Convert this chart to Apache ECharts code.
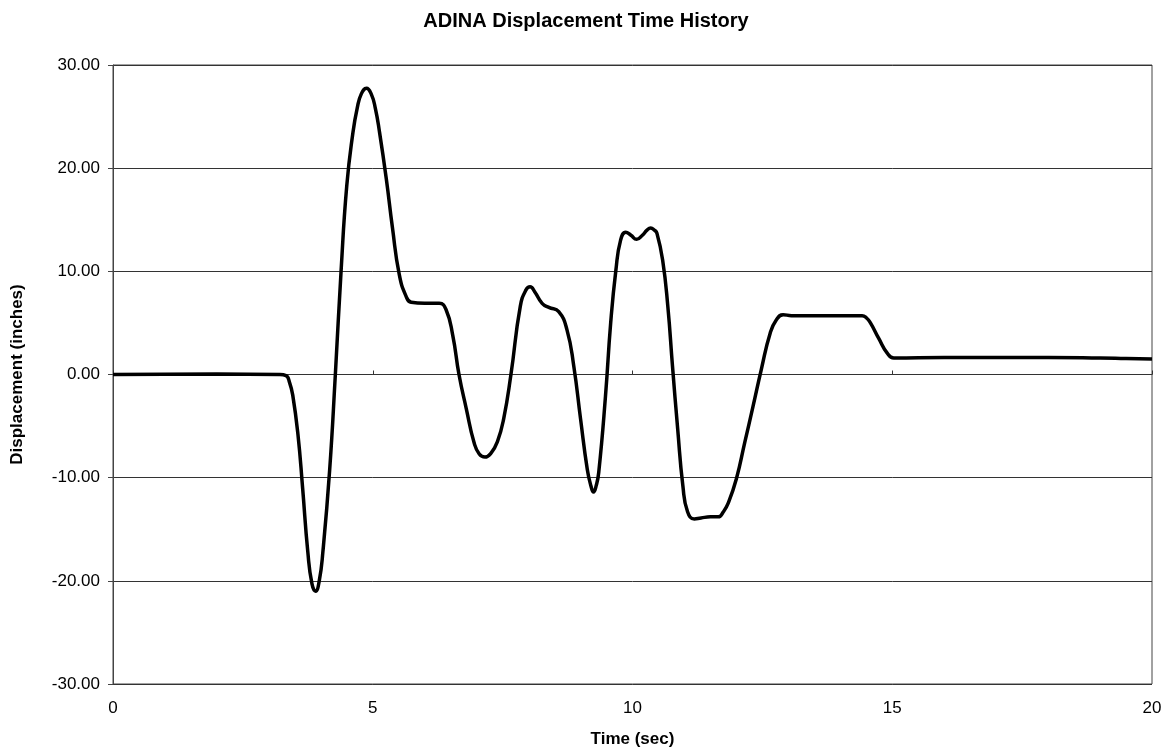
<!DOCTYPE html>
<html><head><meta charset="utf-8">
<script src="https://cdn.jsdelivr.net/npm/echarts@6/dist/echarts.min.js"></script>
<style>html,body{margin:0;padding:0;background:#fff}#c{width:1172px;height:753px}</style>
</head><body><div id="c"></div>
<script>
const time = [0, 2, 3.2, 3.33, 3.4, 3.46, 3.56, 3.65, 3.75, 3.83, 3.90, 3.97, 4.04, 4.17, 4.28, 4.39, 4.50, 4.62, 4.70, 4.78, 4.88, 4.97, 5.05, 5.13, 5.26, 5.38, 5.51, 5.64, 5.74, 6.0, 6.28, 6.41, 6.54, 6.66, 6.8, 6.95, 7.05, 7.16, 7.28, 7.4, 7.52, 7.66, 7.84, 7.95, 8.03, 8.12, 8.26, 8.39, 8.58, 8.74, 8.87, 9.0, 9.13, 9.2, 9.25, 9.3, 9.35, 9.48, 9.58, 9.68, 9.77, 9.87, 9.97, 10.08, 10.19, 10.28, 10.35, 10.42, 10.47, 10.58, 10.68, 10.77, 10.87, 10.97, 11.06, 11.19, 11.32, 11.5, 11.65, 11.75, 11.84, 12.0, 12.16, 12.32, 12.48, 12.65, 12.77, 12.9, 13.06, 13.5, 14.0, 14.42, 14.5, 14.58, 14.74, 14.9, 15.03, 16, 17, 18, 19, 19.5, 20];
const displacement = [0, 0.05, 0, -0.1, -0.8, -2.0, -5.8, -11.0, -17.2, -20.3, -21.0, -20.0, -17.2, -9.3, 0, 10, 18.3, 23.5, 25.8, 27.2, 27.75, 27.2, 25.8, 23.5, 19.0, 14.2, 9.7, 7.6, 7.0, 6.9, 6.9, 6.3, 3.8, 0, -3.3, -6.6, -7.7, -8.0, -7.6, -6.5, -4.3, 0, 6.6, 8.2, 8.5, 8.0, 6.9, 6.5, 6.1, 4.3, 0.8, -4.3, -9.2, -10.8, -11.4, -10.8, -9.5, -2.1, 5.0, 10.1, 13.0, 13.8, 13.5, 13.1, 13.5, 14.0, 14.2, 14.0, 13.7, 11.1, 6.6, 0.8, -5.3, -10.8, -13.3, -14.0, -13.9, -13.8, -13.8, -13.3, -12.5, -10.1, -6.6, -3.1, 0.5, 4.0, 5.3, 5.8, 5.7, 5.7, 5.7, 5.7, 5.5, 5.0, 3.5, 2.1, 1.6, 1.65, 1.65, 1.65, 1.6, 1.55, 1.5];
const xTicks = [0, 5, 10, 15, 20];
const yTicks = [-30, -20, -10, 0, 10, 20, 30];

const pts = time.map((t, i) => [t, displacement[i]]);
const font = 'Liberation Sans, Arial, sans-serif';
const chart = echarts.init(document.getElementById('c'));
chart.setOption({
  animation: false,
  title: { text: 'ADINA Displacement Time History', left: 'center', top: 6,
    textStyle: { fontFamily: font, fontWeight: 'bold', fontSize: 20, color: '#000' } },
  grid: { left: 113, top: 65, width: 1039, height: 619, show: true, borderColor: '#444', borderWidth: 1 },
  xAxis: [{
    type: 'value', min: xTicks[0], max: xTicks[xTicks.length - 1], interval: 5,
    position: 'bottom',
    axisLine: { show: false, onZero: false },
    axisTick: { show: false },
    splitLine: { show: false },
    axisLabel: { fontFamily: font, fontSize: 17, color: '#000', margin: 16 },
    name: 'Time (sec)', nameLocation: 'middle', nameGap: 47,
    nameTextStyle: { fontFamily: font, fontWeight: 'bold', fontSize: 17, color: '#000' }
  }, {
    type: 'value', min: xTicks[0], max: xTicks[xTicks.length - 1], interval: 5,
    axisLine: { show: true, onZero: true, lineStyle: { color: '#333', width: 1 } },
    axisTick: { show: true, inside: false, length: 4, lineStyle: { color: '#333' } },
    axisLabel: { show: false },
    splitLine: { show: false }
  }],
  yAxis: {
    type: 'value', min: yTicks[0], max: yTicks[yTicks.length - 1], interval: 10,
    axisLine: { show: true, onZero: false, lineStyle: { color: '#444' } },
    axisTick: { show: true, length: 5, lineStyle: { color: '#444' } },
    splitLine: { show: true, lineStyle: { color: '#333', width: 1 } },
    axisLabel: { fontFamily: font, fontSize: 17, color: '#000', margin: 13,
      formatter: v => v.toFixed(2) },
    name: 'Displacement (inches)', nameLocation: 'middle', nameGap: 87, nameRotate: 90,
    nameTextStyle: { fontFamily: font, fontWeight: 'bold', fontSize: 17, color: '#000' }
  },
  series: [{
    type: 'line', xAxisIndex: 0, data: pts, showSymbol: false, smooth: 0.5,
    lineStyle: { color: '#000', width: 3.5 }
  }]
});
</script></body></html>
